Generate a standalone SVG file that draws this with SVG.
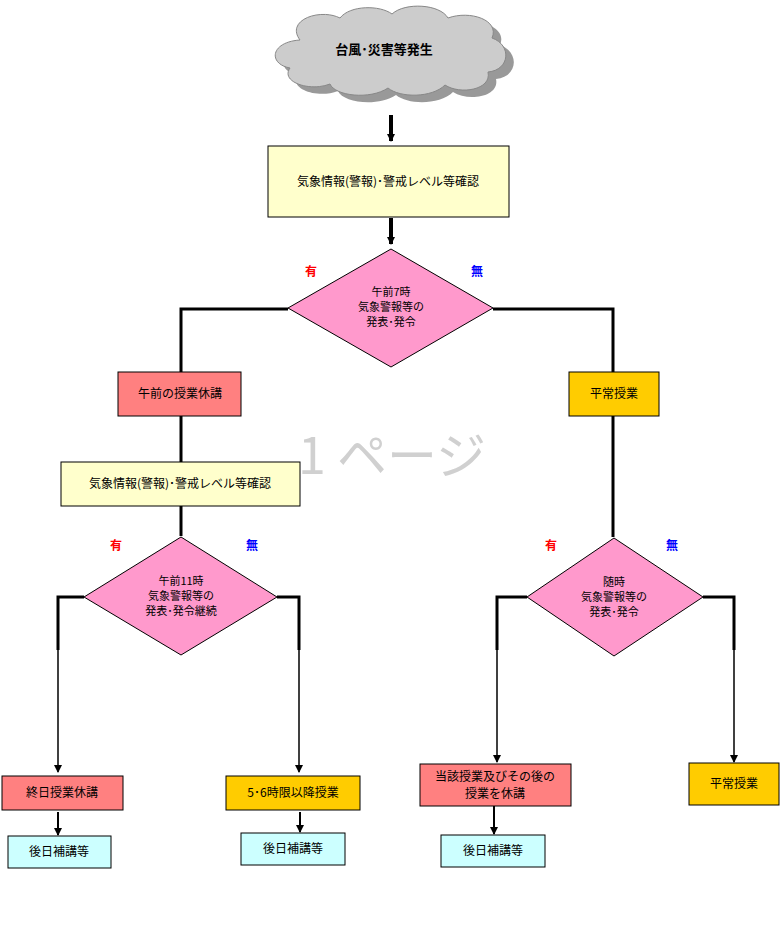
<svg xmlns="http://www.w3.org/2000/svg" width="781" height="927" viewBox="0 0 781 927">
<style>
text{font-family:"Noto Sans CJK JP","Liberation Sans",sans-serif;font-size:12px;fill:#000;text-anchor:middle}
.d{font-size:11px}
.b{stroke:#000;stroke-width:1}
.y{fill:#ffffcc}.p{fill:#ff99cc}.r{fill:#ff8080}.o{fill:#ffcc00}.c{fill:#ccffff}
.ln{fill:none;stroke:#000;stroke-width:3}
.th{fill:none;stroke:#000;stroke-width:1.5}
.yes{fill:#f00;font-weight:bold}.no{fill:#00f;font-weight:bold}
</style>
<defs>
<marker id="a" markerWidth="8" markerHeight="8" refX="7" refY="4" orient="auto" markerUnits="userSpaceOnUse"><path d="M0,0L8,4L0,8z" fill="#000"/></marker>
<path id="cl" d="M300,40 C285,20 320,8 340,18 C350,5 380,5 392,14 C405,2 440,4 448,18 C470,10 500,20 492,38 C512,45 510,70 488,72 C492,90 460,95 445,85 C432,98 400,98 388,88 C370,100 335,96 330,84 C310,92 280,82 290,68 C268,64 270,42 300,40Z"/>
</defs>
<use href="#cl" transform="translate(8,7)" fill="#999"/>
<g id="cloud"><use href="#cl" fill="#ccc" stroke="#888"/><text x="384" y="54" style="font-weight:bold;font-size:13px">台風･災害等発生</text></g>
<text x="392" y="474" style="font-size:50px;fill:#d0d0d0">1 ページ</text>
<g id="connectors">
<line x1="391" y1="115" x2="391" y2="141" stroke="#000" stroke-width="4" marker-end="url(#a)"/>
<line x1="391" y1="218" x2="391" y2="244" stroke="#000" stroke-width="4" marker-end="url(#a)"/>
<polyline class="ln" points="288,309 181,309 181,372"/>
<polyline class="ln" points="493,309 613,309 613,372"/>
<line class="ln" x1="181" y1="416" x2="181" y2="462"/>
<line class="ln" x1="181" y1="506" x2="181" y2="536"/>
<line class="ln" x1="613" y1="416" x2="613" y2="537"/>
<polyline class="ln" points="84,597 58,597 58,650"/><polyline class="th" points="58,650 58,772" marker-end="url(#a)"/>
<polyline class="ln" points="277,597 299,597 299,650"/><polyline class="th" points="299,650 299,772" marker-end="url(#a)"/>
<polyline class="ln" points="527,597 497,597 497,650"/><polyline class="th" points="497,650 497,762" marker-end="url(#a)"/>
<polyline class="ln" points="703,597 734,597 734,650"/><polyline class="th" points="734,650 734,762" marker-end="url(#a)"/>
<line x1="58" y1="812" x2="58" y2="835" stroke="#000" stroke-width="2" marker-end="url(#a)"/>
<line x1="300" y1="812" x2="300" y2="832" stroke="#000" stroke-width="2" marker-end="url(#a)"/>
<line x1="494" y1="806" x2="494" y2="834" stroke="#000" stroke-width="2" marker-end="url(#a)"/>
</g>
<g id="n1"><rect class="b y" x="268" y="146" width="241" height="71"/><text x="388" y="186">気象情報(警報)･警戒レベル等確認</text></g>
<g id="d1"><polygon class="b p" points="391,249 493,308 391,367 288,308"/><text class="d" x="391" y="296">午前7時</text><text class="d" x="391" y="311">気象警報等の</text><text class="d" x="391" y="326">発表･発令</text></g>
<text class="yes" x="311" y="276">有</text><text class="no" x="477" y="276">無</text>
<g id="n2"><rect class="b r" x="118" y="372" width="123" height="44"/><text x="180" y="398">午前の授業休講</text></g>
<g id="n3"><rect class="b o" x="569" y="372" width="90" height="44"/><text x="614" y="398">平常授業</text></g>
<g id="n4"><rect class="b y" x="61" y="462" width="239" height="44"/><text x="180" y="488">気象情報(警報)･警戒レベル等確認</text></g>
<g id="d2"><polygon class="b p" points="181,537 277,597 181,655 84,597"/><text class="d" x="181" y="585">午前11時</text><text class="d" x="181" y="600">気象警報等の</text><text class="d" x="181" y="615">発表･発令継続</text></g>
<text class="yes" x="116" y="550">有</text><text class="no" x="252" y="550">無</text>
<g id="d3"><polygon class="b p" points="614,538 703,597 614,656 527,597"/><text class="d" x="614" y="586">随時</text><text class="d" x="614" y="601">気象警報等の</text><text class="d" x="614" y="616">発表･発令</text></g>
<text class="yes" x="551" y="550">有</text><text class="no" x="672" y="550">無</text>
<g id="n5"><rect class="b r" x="2" y="776" width="121" height="34"/><text x="62" y="797">終日授業休講</text></g>
<g id="n6"><rect class="b o" x="226" y="776" width="134" height="34"/><text x="293" y="797">5･6時限以降授業</text></g>
<g id="n7"><rect class="b r" x="420" y="764" width="151" height="42"/><text x="495" y="781">当該授業及びその後の</text><text x="495" y="798">授業を休講</text></g>
<g id="n8"><rect class="b o" x="689" y="763" width="90" height="42"/><text x="734" y="788">平常授業</text></g>
<g id="n9"><rect class="b c" x="8" y="836" width="103" height="32"/><text x="59" y="856">後日補講等</text></g>
<g id="n10"><rect class="b c" x="241" y="833" width="104" height="32"/><text x="293" y="853">後日補講等</text></g>
<g id="n11"><rect class="b c" x="441" y="835" width="104" height="32"/><text x="493" y="855">後日補講等</text></g>
</svg>
